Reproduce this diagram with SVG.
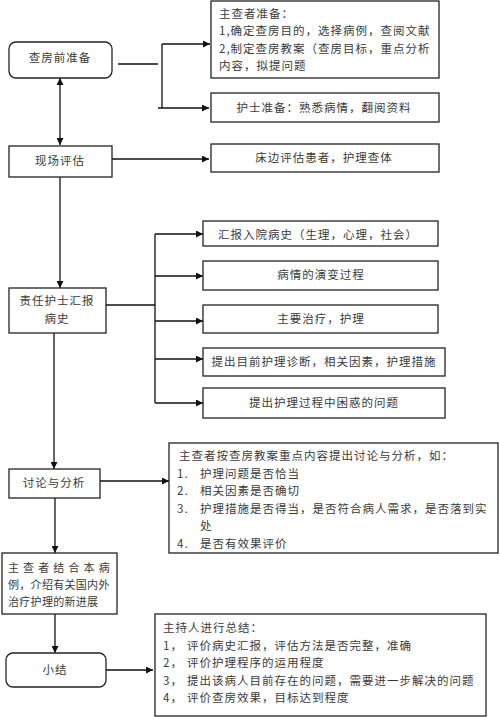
<svg xmlns="http://www.w3.org/2000/svg" width="500" height="717" viewBox="0 0 500 717">
<defs>
<marker id="ah" viewBox="0 0 10 10" refX="10" refY="5" markerWidth="7" markerHeight="7" orient="auto-start-reverse" markerUnits="userSpaceOnUse">
<path d="M0,0 L10,5 L0,10 z" fill="#111"/>
</marker>
<style>
.b{fill:#fff;stroke:#222;stroke-width:1.3}
.t{font-family:"Noto Sans CJK SC","Liberation Sans",sans-serif;font-size:11.5px;letter-spacing:1px;fill:#3a3a3a;dominant-baseline:central}
.c{text-anchor:middle}
.s{font-size:11px;letter-spacing:0.3px}
.l{stroke:#111;stroke-width:1.3;fill:none}
.a{marker-end:url(#ah)}
</style>
</defs>
<rect width="500" height="717" fill="#fff"/>
<g id="connectors">
<line class="l a" x1="60" y1="78" x2="60" y2="145" style="marker-start:url(#ah)"/>
<line class="l" x1="118" y1="64" x2="158" y2="64"/>
<line class="l" x1="162" y1="44" x2="162" y2="108"/>
<line class="l a" x1="162" y1="44" x2="210" y2="44"/>
<line class="l a" x1="158" y1="108" x2="209" y2="108"/>
<line class="l a" x1="112" y1="159" x2="209" y2="159"/>
<line class="l a" x1="60" y1="177" x2="60" y2="288"/>
<line class="l" x1="106" y1="305" x2="155" y2="305"/>
<line class="l" x1="155" y1="234" x2="155" y2="403"/>
<line class="l a" x1="155" y1="234" x2="203" y2="234"/>
<line class="l a" x1="155" y1="276" x2="203" y2="276"/>
<line class="l a" x1="155" y1="321" x2="203" y2="321"/>
<line class="l a" x1="155" y1="359" x2="203" y2="359"/>
<line class="l a" x1="155" y1="403" x2="203" y2="403"/>
<line class="l a" x1="54" y1="333" x2="54" y2="469"/>
<line class="l a" x1="100" y1="481" x2="169" y2="481"/>
<line class="l a" x1="55" y1="498" x2="55" y2="553"/>
<line class="l a" x1="55" y1="614" x2="55" y2="653"/>
<line class="l a" x1="100" y1="670" x2="153" y2="670"/>
</g>
<g id="n1"><rect class="b" x="9" y="42" width="103" height="36" rx="7"/><text class="t c" x="60" y="57">查房前准备</text></g>
<g id="n1a"><rect class="b" x="211" y="1" width="228" height="77"/>
<text class="t" x="219" y="12.5">主查者准备：</text>
<text class="t" x="219" y="30">1,确定查房目的，选择病例，查阅文献</text>
<text class="t" x="219" y="47.5">2,制定查房教案（查房目标，重点分析</text>
<text class="t" x="219" y="65">内容，拟提问题</text></g>
<g id="n1b"><rect class="b" x="211" y="93" width="228" height="29"/><text class="t c" x="324" y="107">护士准备：熟悉病情，翻阅资料</text></g>
<g id="n2"><rect class="b" x="9" y="146" width="103" height="31"/><text class="t c" x="60" y="160">现场评估</text></g>
<g id="n2a"><rect class="b" x="211" y="144" width="228" height="28"/><text class="t c" x="324" y="157">床边评估患者，护理查体</text></g>
<g id="n3"><rect class="b" x="9" y="288" width="97" height="45"/><text class="t c" x="57" y="300">责任护士汇报</text><text class="t c" x="57" y="318">病史</text></g>
<g id="n3a"><rect class="b" x="203" y="221" width="235" height="25"/><text class="t c" x="318" y="234">汇报入院病史（生理，心理，社会）</text></g>
<g id="n3b"><rect class="b" x="203" y="261" width="235" height="29"/><text class="t c" x="321" y="274">病情的演变过程</text></g>
<g id="n3c"><rect class="b" x="203" y="305" width="235" height="28"/><text class="t c" x="321" y="318">主要治疗，护理</text></g>
<g id="n3d"><rect class="b" x="203" y="348" width="242" height="28"/><text class="t c" x="324" y="361">提出目前护理诊断，相关因素，护理措施</text></g>
<g id="n3e"><rect class="b" x="203" y="388" width="242" height="30"/><text class="t c" x="324" y="402">提出护理过程中困惑的问题</text></g>
<g id="n4"><rect class="b" x="9" y="469" width="91" height="29"/><text class="t c" x="54" y="482">讨论与分析</text></g>
<g id="n4a"><rect class="b" x="169" y="443" width="329" height="110"/>
<text class="t" x="179" y="455">主查者按查房教案重点内容提出讨论与分析，如：</text>
<text class="t" x="177" y="472.5">1.</text><text class="t" x="200" y="472.5">护理问题是否恰当</text>
<text class="t" x="177" y="490">2.</text><text class="t" x="200" y="490">相关因素是否确切</text>
<text class="t" x="177" y="507.5">3.</text><text class="t" x="200" y="507.5">护理措施是否得当，是否符合病人需求，是否落到实</text>
<text class="t" x="200" y="525">处</text>
<text class="t" x="177" y="542.5">4.</text><text class="t" x="200" y="542.5">是否有效果评价</text></g>
<g id="n5"><rect class="b" x="2" y="553" width="115" height="61"/>
<text class="t s" x="8" y="567" textLength="102" lengthAdjust="spacing">主查者结合本病</text>
<text class="t s" x="8" y="584">例，介绍有关国内外</text>
<text class="t s" x="8" y="601">治疗护理的新进展</text></g>
<g id="n6"><rect class="b" x="6" y="653" width="100" height="34" rx="7"/><text class="t c" x="55" y="669">小结</text></g>
<g id="n6a"><rect class="b" x="155" y="614" width="331" height="102"/>
<text class="t" x="163" y="627">主持人进行总结：</text>
<text class="t" x="163" y="644.5">1，</text><text class="t" x="187" y="644.5">评价病史汇报，评估方法是否完整，准确</text>
<text class="t" x="163" y="662">2，</text><text class="t" x="187" y="662">评价护理程序的运用程度</text>
<text class="t" x="163" y="679.5">3，</text><text class="t" x="187" y="679.5">提出该病人目前存在的问题，需要进一步解决的问题</text>
<text class="t" x="163" y="697">4，</text><text class="t" x="187" y="697">评价查房效果，目标达到程度</text></g>
</svg>
